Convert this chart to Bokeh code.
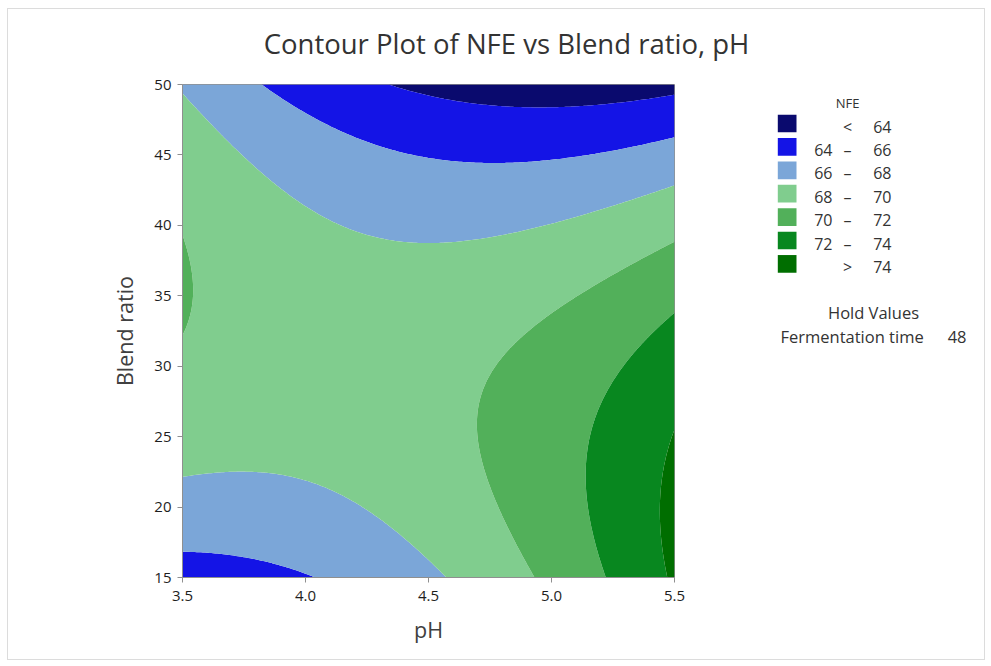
import numpy as np
from bokeh.plotting import figure
from bokeh.layouts import column, row
from bokeh.models import FixedTicker, PrintfTickFormatter, Range1d
from bokeh.core.properties import value
from bokeh.embed import file_html
from bokeh.resources import INLINE

# Fitted response surface (Fermentation time held at 48)
# NFE = b0 + b_ph*u + b_br*v + b_ph2*u^2 + b_br2*v^2 + b_phbr*u*v
# with u = pH - 4.5 and v = (Blend ratio - 32.5) / 17.5
b0 = 69.1756
b_ph = 1.1961
b_br = -2.0310
b_ph2 = 2.0449
b_br2 = -3.5471
b_phbr = -3.3501
ph_center, ph_half = 4.5, 1.0
br_center, br_half = 32.5, 17.5

levels = [40, 64, 66, 68, 70, 72, 74, 100]
band_colors = ["#0a0a6e", "#1414e6", "#7ba6d8", "#80cd8e", "#52b05a", "#08871f", "#006e00"]
band_lo = ["", "64", "66", "68", "70", "72", ""]
band_sym = ["<", "\u2013", "\u2013", "\u2013", "\u2013", "\u2013", ">"]
band_hi = ["64", "66", "68", "70", "72", "74", "74"]
x_ticks = [3.5, 4.0, 4.5, 5.0, 5.5]
y_ticks = [15, 20, 25, 30, 35, 40, 45, 50]
hold_name = "Fermentation time"
hold_value = "48"

ph = np.linspace(3.5, 5.5, 241)
br = np.linspace(15, 50, 241)
PH, BR = np.meshgrid(ph, br)
uu = (PH - ph_center) / ph_half
vv = (BR - br_center) / br_half
Z = b0 + b_ph*uu + b_br*vv + b_ph2*uu**2 + b_br2*vv**2 + b_phbr*uu*vv

FONT = "Open Sans"
TXT = "#333333"

def pixel_fig(w, h, top=0, bottom=0):
    f = figure(width=w, height=h, x_range=Range1d(0, w), y_range=Range1d(h - bottom, top),
               output_backend="svg", toolbar_location=None, x_axis_type=None, y_axis_type=None,
               min_border=0, min_border_top=top, min_border_bottom=bottom, title=None)
    f.outline_line_color = None
    f.grid.visible = False
    return f

def txt(f, x, y, s, size, align="left", color=TXT):
    f.text(x=[x], y=[y], text=[s], text_font=value(FONT), text_font_size=value(size),
           text_color=color, text_align=align, text_baseline="alphabetic")

# --- title strip (page y 9..69)
top = pixel_fig(976, 60)
txt(top, 498, 34, "Contour Plot of NFE vs Blend ratio, pH", "27.5px", "center")

# --- main contour plot
p = figure(width=686, height=590, x_range=Range1d(3.5, 5.5), y_range=Range1d(15, 50),
           output_backend="svg", toolbar_location=None, title=None,
           min_border_left=174, min_border_right=20, min_border_top=15, min_border_bottom=82)
p.xgrid.visible = False
p.ygrid.visible = False
p.outline_line_color = "#8f8f8f"
p.contour(x=ph, y=br, z=Z, levels=levels, fill_color=band_colors, line_color=None)
for ax in (p.xaxis[0], p.yaxis[0]):
    ax.axis_line_color = "#8f8f8f"
    ax.major_tick_line_color = "#8f8f8f"
    ax.minor_tick_line_color = None
    ax.major_tick_out = 5
    ax.major_tick_in = 0
    ax.major_label_text_font = FONT
    ax.major_label_text_font_size = "15px"
    ax.major_label_text_color = "#1e1e1e"
    ax.axis_label_text_font = FONT
    ax.axis_label_text_font_size = "21.5px"
    ax.axis_label_text_font_style = "normal"
    ax.axis_label_text_color = "#404040"
p.xaxis.ticker = FixedTicker(ticks=x_ticks)
p.xaxis.formatter = PrintfTickFormatter(format="%.1f")
p.yaxis.ticker = FixedTicker(ticks=y_ticks)
p.xaxis.axis_label = "pH"
p.yaxis.axis_label = "Blend ratio"
p.xaxis.major_label_standoff = 8
p.yaxis.major_label_standoff = 6
p.xaxis.axis_label_standoff = 11
p.yaxis.axis_label_standoff = 12

# --- legend / hold values panel (page x 694..984, y 69..659); frame aligned with main frame
side = pixel_fig(290, 590, top=15, bottom=82)
txt(side, 153, 33, "NFE", "13px", "center")
n = len(band_colors)
rows_y = [54 + i*23.4 for i in range(n)]
side.quad(left=[83.3]*n, right=[102]*n, top=[y - 8.85 for y in rows_y],
          bottom=[y + 8.85 for y in rows_y], fill_color=band_colors, line_color=None)
for i in range(n):
    y = rows_y[i] + 3
    if band_lo[i]:
        txt(side, 138, y, band_lo[i], "16px", "right")
    txt(side, 153, y, band_sym[i], "16px", "center")
    txt(side, 197, y, band_hi[i], "16px", "right")
txt(side, 179, 243, "Hold Values", "16.5px", "center")
txt(side, 86, 267, hold_name, "16.5px", "left")
txt(side, 272, 267, hold_value, "16.5px", "right")

layout = column(top, row(p, side), styles={"margin-left": "7px", "margin-top": "8px",
                                            "border": "1px solid #dcdcdc"})
open("out.html", "w").write(file_html(layout, INLINE))
